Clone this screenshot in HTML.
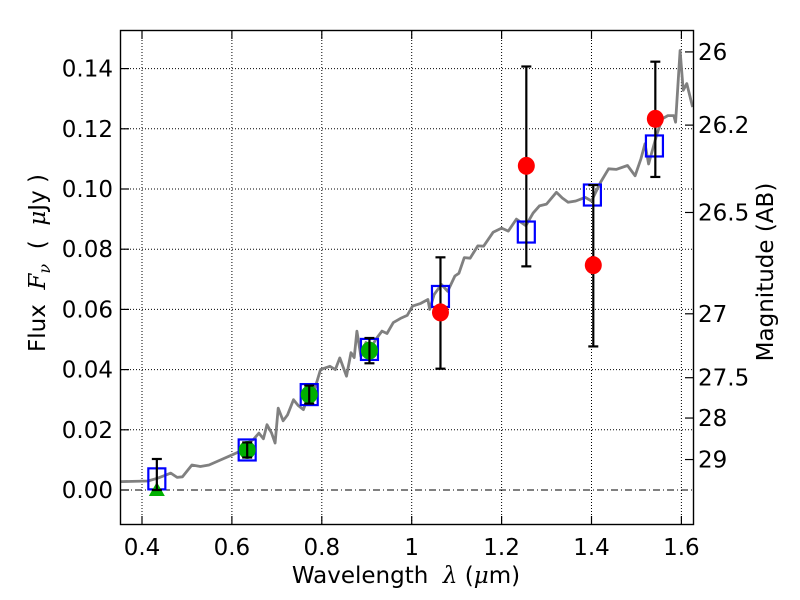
<!DOCTYPE html>
<html><head><meta charset="utf-8"><style>
body{margin:0;background:#fff}
svg{display:block}
text{font-family:"DejaVu Sans","Liberation Sans",sans-serif;fill:#000}
</style></head><body>
<svg id="chart" width="800" height="600" xmlns="http://www.w3.org/2000/svg">
<rect width="800" height="600" fill="#fff"/>
<g id="grid"></g>
<g id="spec"></g>
<g id="marks"></g>
<rect x="120.5" y="30.5" width="573" height="494" fill="none" stroke="#000" stroke-width="1.4"/>
<g id="axes"></g>
<text x="406" y="583" font-size="23" text-anchor="middle" xml:space="preserve">Wavelength  <tspan font-style="italic" font-family="DejaVu Serif, serif">λ</tspan> (<tspan font-style="italic" font-family="DejaVu Serif, serif">μ</tspan>m)</text>
<text transform="translate(45,263) rotate(-90)" font-size="23" text-anchor="middle" xml:space="preserve">Flux  <tspan font-style="italic" font-family="DejaVu Serif, serif">F</tspan><tspan font-style="italic" font-family="DejaVu Serif, serif" font-size="16" dy="5">ν</tspan><tspan dy="-5">  (  </tspan><tspan font-style="italic" font-family="DejaVu Serif, serif">μ</tspan>Jy )</text>
<text transform="translate(773,272) rotate(-90)" font-size="23" text-anchor="middle">Magnitude (AB)</text>
</svg>
<script>
const xTicks=[0.4,0.6,0.8,1.0,1.2,1.4,1.6];
const xTickLabels=["0.4","0.6","0.8","1","1.2","1.4","1.6"];
const yTicks=[0,0.02,0.04,0.06,0.08,0.10,0.12,0.14];
const yTickLabels=["0.00","0.02","0.04","0.06","0.08","0.10","0.12","0.14"];
const magTicks=[26,26.2,26.5,27,27.5,28,29];
const magTickLabels=["26","26.2","26.5","27","27.5","28","29"];
const specLam=[0.353,0.413,0.434,0.45,0.464,0.478,0.49,0.511,0.53,0.549,0.575,0.601,0.62,0.635,0.648,0.66,0.67,0.678,0.688,0.696,0.703,0.714,0.724,0.737,0.748,0.759,0.771,0.785,0.797,0.818,0.83,0.84,0.855,0.865,0.872,0.878,0.887,0.898,0.908,0.92,0.934,0.945,0.959,0.975,0.99,1.002,1.02,1.036,1.04,1.05,1.066,1.08,1.096,1.105,1.117,1.13,1.147,1.16,1.181,1.2,1.215,1.233,1.254,1.27,1.284,1.3,1.322,1.335,1.348,1.365,1.386,1.4,1.42,1.438,1.455,1.48,1.497,1.51,1.519,1.527,1.545,1.557,1.57,1.583,1.587,1.597,1.604,1.612,1.625];
const specFlux=[0.0028,0.003,0.0039,0.0048,0.0056,0.0042,0.0044,0.0083,0.0078,0.0083,0.010,0.0117,0.013,0.0156,0.0168,0.0189,0.017,0.0217,0.019,0.0156,0.0272,0.023,0.025,0.030,0.028,0.0267,0.0317,0.034,0.040,0.0411,0.040,0.0439,0.0378,0.0456,0.044,0.0528,0.0444,0.049,0.0467,0.050,0.0528,0.052,0.0556,0.057,0.058,0.0611,0.062,0.0633,0.060,0.065,0.0683,0.066,0.0711,0.072,0.0772,0.077,0.0811,0.081,0.0856,0.087,0.086,0.090,0.0878,0.092,0.0944,0.095,0.0989,0.097,0.0956,0.096,0.0972,0.096,0.1022,0.1067,0.1065,0.1078,0.1044,0.110,0.115,0.1083,0.118,0.1233,0.1244,0.1244,0.1222,0.146,0.1328,0.135,0.1272];
const modelLam=[0.433,0.634,0.772,0.906,1.064,1.255,1.402,1.540];
const modelFlux=[0.0037,0.0133,0.0317,0.0467,0.0643,0.0857,0.098,0.1143];
const greenLam=[0.634,0.772,0.906];
const greenFlux=[0.0133,0.0317,0.0463];
const greenErr=[0.0025,0.003,0.0042];
const limLam=[0.433];
const limFlux=[0.0];
const limTop=[0.0103];
const redLam=[1.064,1.255,1.404,1.542];
const redFlux=[0.059,0.1077,0.0747,0.1233];
const redLo=[0.0403,0.0743,0.0477,0.104];
const redHi=[0.0773,0.1407,0.1013,0.1423];

const X=v=>142+(v-0.4)*449.5;
const Y=v=>490-v*3010;
const NS="http://www.w3.org/2000/svg";
function mk(parent,tag,attrs){const e=document.createElementNS(NS,tag);for(const k in attrs)e.setAttribute(k,attrs[k]);parent.appendChild(e);return e;}
const grid=document.getElementById('grid'),axes=document.getElementById('axes'),spec=document.getElementById('spec'),marks=document.getElementById('marks');

xTicks.forEach((t,i)=>{
  const x=X(t);
  const g=mk(grid,'line',{x1:x,x2:x,y1:31,y2:524,stroke:'#000','stroke-width':1,'stroke-dasharray':'1,2'});
  
  
  const tk=mk(axes,'line',{x1:x,x2:x,y1:524,y2:516,stroke:'#000','stroke-width':1.2});
  
  
  const tk2=mk(axes,'line',{x1:x,x2:x,y1:31,y2:39,stroke:'#000','stroke-width':1.2});
  
  
  const l=mk(axes,'text',{x:x,y:555,'font-size':23,'text-anchor':'middle'});
  l.textContent=xTickLabels[i];
  
  
});
yTicks.forEach((t,i)=>{
  const y=Y(t);
  const g=mk(grid,'line',{x1:121,x2:693,y1:y,y2:y,stroke:'#000','stroke-width':1,'stroke-dasharray':t===0?'7,3,1,3':'1,2'});
  
  
  const tk=mk(axes,'line',{x1:121,x2:129,y1:y,y2:y,stroke:'#000','stroke-width':1.2});
  
  
  const l=mk(axes,'text',{x:113,y:y+8,'font-size':23,'text-anchor':'end'});
  l.textContent=yTickLabels[i];
  
  
});
magTicks.forEach((m,i)=>{
  const f=Math.pow(10,(23.9-m)/2.5);
  const y=Y(f)-3;
  const tk=mk(axes,'line',{x1:685,x2:693,y1:y,y2:y,stroke:'#000','stroke-width':1.2});
  
  
  const l=mk(axes,'text',{x:698,y:y+8,'font-size':23});
  l.textContent=magTickLabels[i];
  
  
});
const pts=specLam.map((l,i)=>X(l).toFixed(1)+','+Y(specFlux[i]).toFixed(1)).join(' ');
const pl=mk(spec,'polyline',{points:pts,fill:'none',stroke:'#808080','stroke-width':2.8,'stroke-linejoin':'round'});



function errbar(x,lo,hi){
  const g=mk(marks,'g',{stroke:'#000','stroke-width':2.2});
  
  
  mk(g,'line',{x1:x,x2:x,y1:Y(lo),y2:Y(hi)});
  mk(g,'line',{x1:x-5,x2:x+5,y1:Y(lo),y2:Y(lo)});
  mk(g,'line',{x1:x-5,x2:x+5,y1:Y(hi),y2:Y(hi)});
}
modelLam.forEach((l,i)=>{
  const r=mk(marks,'rect',{x:X(l)-8.5,y:Y(modelFlux[i])-10.5,width:17,height:21,fill:'none',stroke:'#0000ff','stroke-width':2.2});
  
  
});
limLam.forEach((l,i)=>{
  const x=X(l),y=Y(limFlux[i]);
  const t=mk(marks,'polygon',{points:`${x-8},${y+6} ${x+8},${y+6} ${x},${y-8}`,fill:'#00b000'});
  
  
  errbar(x,limFlux[i],limTop[i]);
});
greenLam.forEach((l,i)=>{
  const c=mk(marks,'ellipse',{cx:X(l),cy:Y(greenFlux[i]),rx:8.5,ry:9,fill:'#00b000'});
  
  
  errbar(X(l),greenFlux[i]-greenErr[i],greenFlux[i]+greenErr[i]);
});
redLam.forEach((l,i)=>{
  errbar(X(l),redLo[i],redHi[i]);
  const c=mk(marks,'ellipse',{cx:X(l),cy:Y(redFlux[i]),rx:8.5,ry:9,fill:'#ff0000'});
  
  
});
</script>
</body></html>
